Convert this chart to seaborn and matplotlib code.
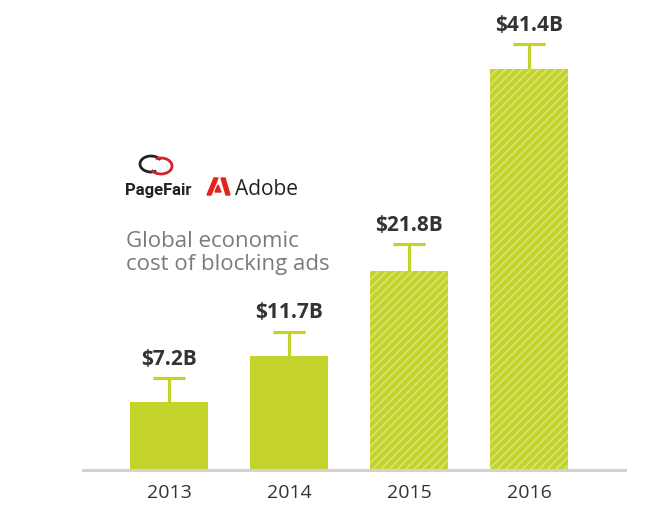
import matplotlib
matplotlib.use("Agg")
import matplotlib.pyplot as plt
import matplotlib.patches as mpatches
import seaborn as sns

# values (billions of dollars)
years = ["2013", "2014", "2015", "2016"]
bar_height = [7.0, 11.8, 20.6, 41.4]
err_up = [2.5, 2.5, 2.7, 2.6]
labels = ["$7.2B", "$11.7B", "$21.8B", "$41.4B"]
estimated = [False, False, True, True]

green = "#c3d32c"
stripe = "#dae57c"

sns.set_theme(style="white")
plt.rcParams["font.family"] = ["Open Sans", "DejaVu Sans"]
plt.rcParams["hatch.linewidth"] = 1.1

W, H = 668, 509
fig = plt.figure(figsize=(W / 100, H / 100), dpi=100)
ax = fig.add_axes([83 / W, 1 - 470 / H, 542 / W, 460 / H])

sns.barplot(x=years, y=bar_height, color=green, width=0.65, saturation=1, ax=ax)
for patch, est in zip(ax.patches, estimated):
    patch.set_linewidth(0)
    if est:
        patch.set_hatch("////")
        patch.set_edgecolor(stripe)

# upper whiskers only
xs = range(len(years))
tops = [h + e for h, e in zip(bar_height, err_up)]
ax.vlines(xs, bar_height, tops, color=green, lw=2.3)
ax.hlines(tops, [x - 0.13 for x in xs], [x + 0.13 for x in xs], color=green, lw=2.3)

for i, (t, lab) in enumerate(zip(tops, labels)):
    ax.annotate(lab, (i, t), xytext=(0, 6), textcoords="offset points",
                ha="center", va="bottom", fontsize=15, fontweight="bold", color="#333333")

ax.set_xlim(-0.717, 3.8)
ax.set_ylim(0, 47.5)
ax.set_yticks([])
ax.tick_params(axis="x", length=0, pad=10, labelsize=14, labelcolor="#333333")
for s in ["left", "right", "top"]:
    ax.spines[s].set_visible(False)
ax.spines["bottom"].set_color("#d2d2d2")
ax.spines["bottom"].set_linewidth(2.2)
ax.set_xlabel("")
ax.set_ylabel("")


def fx(px):
    return px / W


def fy(py):
    return 1 - py / H


# PageFair mark (two linked arcs)
fig.patches.append(mpatches.Arc((fx(151), fy(164)), 22 / W, 16 / H, theta1=30, theta2=300,
                                color="#222222", lw=2, transform=fig.transFigure))
fig.patches.append(mpatches.Arc((fx(161), fy(166)), 22 / W, 16 / H, theta1=210, theta2=480,
                                color="#d2232a", lw=2, transform=fig.transFigure))
fig.text(fx(125), fy(195), "PageFair", fontsize=12, fontweight="bold", color="#222222",
         family=["Roboto", "DejaVu Sans"], va="baseline", ha="left")

# Adobe mark
red = "#e2231a"
fig.patches.append(mpatches.Polygon([(fx(207), fy(195)), (fx(214), fy(178)), (fx(218), fy(178)), (fx(211), fy(195))],
                                    closed=True, color=red, transform=fig.transFigure))
fig.patches.append(mpatches.Polygon([(fx(221), fy(178)), (fx(225), fy(178)), (fx(230), fy(195)), (fx(226), fy(195))],
                                    closed=True, color=red, transform=fig.transFigure))
fig.patches.append(mpatches.Polygon([(fx(218), fy(185)), (fx(221), fy(192)), (fx(215), fy(192))],
                                    closed=True, color=red, transform=fig.transFigure))
fig.text(fx(235), fy(195), "Adobe", fontsize=15, color="#222222", va="baseline", ha="left")

fig.text(fx(126), fy(270), "Global economic\ncost of blocking ads", fontsize=16, color="#7b7b7b",
         va="baseline", ha="left", linespacing=1.1)

fig.savefig("out.png", dpi=100)
